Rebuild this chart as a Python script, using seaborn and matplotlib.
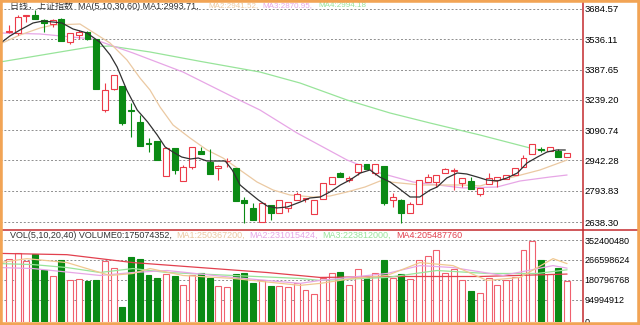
import numpy as np
import pandas as pd
import matplotlib
matplotlib.use("Agg")
import matplotlib.pyplot as plt
import seaborn as sns
from matplotlib.patches import Rectangle
from matplotlib.lines import Line2D

# ---------------- data ----------------
opens = [3574.2, 3566.9, 3647.8, 3655.1, 3630.6, 3611.0, 3635.5, 3522.7, 3557.0, 3571.8,
         3537.4, 3189.2, 3292.2, 3306.9, 3189.2, 3130.3, 3027.3, 3037.1, 2865.4, 3002.8,
         2840.9, 2909.6, 2988.1, 2934.1, 2904.7, 2936.6, 2904.7, 2747.7, 2708.5, 2639.8,
         2723.2, 2684.0, 2708.5, 2747.7, 2752.6, 2679.1, 2752.6, 2826.2, 2880.1, 2845.8,
         2885.1, 2924.3, 2880.1, 2914.5, 2747.7, 2747.7, 2684.0, 2728.1, 2836.0, 2836.0,
         2880.1, 2890.0, 2831.1, 2840.9, 2777.1, 2826.2, 2845.8, 2850.7, 2870.3, 2909.6,
         2973.4, 2997.9, 2988.1, 2988.1, 2958.6]
closes = [3576.7, 3645.3, 3652.7, 3635.5, 3615.9, 3630.6, 3527.6, 3566.9, 3571.8, 3537.4,
          3292.2, 3287.3, 3360.8, 3125.4, 3184.3, 3012.6, 3022.4, 2943.9, 3002.8, 2894.9,
          2909.6, 3007.7, 2973.4, 2875.2, 2914.5, 2939.0, 2742.8, 2733.0, 2649.6, 2733.0,
          2684.0, 2747.7, 2737.9, 2777.1, 2757.5, 2747.7, 2831.1, 2860.5, 2860.5, 2853.2,
          2924.3, 2899.8, 2924.3, 2733.0, 2762.4, 2684.0, 2728.1, 2845.8, 2860.5, 2870.3,
          2899.8, 2894.9, 2855.6, 2801.7, 2806.6, 2855.6, 2860.5, 2870.3, 2904.7, 2953.7,
          3022.4, 2993.0, 3007.7, 2958.6, 2978.3]
highs = [3606.1, 3655.1, 3652.7, 3679.7, 3635.5, 3635.5, 3640.4, 3566.9, 3581.6, 3576.7,
         3537.4, 3321.6, 3360.8, 3306.9, 3223.5, 3164.6, 3051.8, 3037.1, 3007.7, 3002.8,
         2919.4, 3007.7, 3007.7, 2995.4, 2919.4, 2953.7, 2904.7, 2762.4, 2733.0, 2733.0,
         2723.2, 2747.7, 2737.9, 2787.0, 2752.6, 2747.7, 2831.1, 2860.5, 2885.1, 2865.4,
         2924.3, 2924.3, 2924.3, 2914.5, 2782.1, 2752.6, 2737.9, 2845.8, 2875.2, 2870.3,
         2904.7, 2904.7, 2855.6, 2860.5, 2806.6, 2880.1, 2860.5, 2870.3, 2904.7, 2968.4,
         3022.4, 3007.7, 3007.7, 2997.9, 2978.3]
lows = [3566.9, 3557.0, 3620.8, 3635.5, 3571.8, 3596.3, 3527.6, 3512.9, 3537.4, 3532.5,
        3292.2, 3179.4, 3287.3, 3115.6, 3056.7, 3012.6, 2983.2, 2943.9, 2865.4, 2875.2,
        2840.9, 2899.8, 2973.4, 2875.2, 2845.8, 2909.6, 2742.8, 2634.9, 2649.6, 2639.8,
        2649.6, 2684.0, 2688.9, 2747.7, 2737.9, 2679.1, 2752.6, 2826.2, 2860.5, 2836.0,
        2870.3, 2899.8, 2870.3, 2723.2, 2713.4, 2634.9, 2684.0, 2728.1, 2836.0, 2811.5,
        2880.1, 2796.8, 2811.5, 2801.7, 2767.3, 2826.2, 2811.5, 2850.7, 2870.3, 2909.6,
        2973.4, 2983.2, 2988.1, 2958.6, 2958.6]
# volume in millions
volume_m = [270.7, 296.3, 263.5, 292.1, 223.7, 195.1, 266.4, 178.1, 182.3, 175.1,
            178.1, 263.5, 232.3, 64.1, 280.5, 270.7, 202.4, 187.9, 203.7, 195.1,
            159.7, 202.4, 212.2, 189.6, 153.7, 148.2, 206.7, 209.2, 166.5, 181.0,
            152.4, 155.4, 148.2, 166.5, 135.4, 121.3, 189.6, 210.9, 216.5, 156.7,
            228.0, 192.2, 210.9, 266.4, 189.6, 203.7, 185.3, 266.4, 283.5, 310.4,
            210.9, 228.0, 178.1, 132.4, 123.8, 189.6, 159.7, 181.0, 192.2, 310.4,
            350.0, 266.4, 206.7, 232.3, 175.07]

# price moving averages (position index, value)
ma5_x = [-0.8, 0.1, 1.26, 2.75, 3.9, 5.05, 6.08, 7.34, 8.94, 10.4, 11.6, 12.4, 13.5, 14.7,
         15.9, 17.0, 17.9, 18.8, 19.8, 20.8, 21.7, 22.7, 23.6, 24.8, 25.6, 26.5, 27.6, 28.6,
         29.6, 30.7, 31.9, 33.4, 34.5, 35.7, 36.8, 38.0, 39.1, 40.3, 41.4, 42.5, 43.7, 44.8,
         46.0, 47.1, 48.3, 49.1, 50.2, 51.4, 52.5, 53.7, 54.8, 56.0, 57.1, 58.3, 59.4, 60.6,
         61.7, 62.8, 63.8]
ma5_y = [3522.7, 3552.1, 3581.6, 3615.9, 3625.7, 3620.8, 3615.9, 3586.5, 3566.9, 3522.7,
         3459.0, 3400.1, 3287.3, 3189.2, 3130.3, 3066.5, 3007.7, 2983.2, 2958.6, 2948.8,
         2953.7, 2939.0, 2939.0, 2939.0, 2894.9, 2821.3, 2782.1, 2747.7, 2718.3, 2708.5,
         2713.4, 2737.9, 2757.5, 2762.4, 2787.0, 2821.3, 2845.8, 2880.1, 2894.9, 2860.5,
         2836.0, 2801.7, 2762.4, 2762.4, 2796.8, 2811.5, 2855.6, 2880.1, 2875.2, 2860.5,
         2845.8, 2840.9, 2855.6, 2880.1, 2929.2, 2958.6, 2983.2, 2993.0, 2993.0]
ma10_x = [-1.03, 1.26, 3.56, 5.05, 8.14, 11.58, 13.53, 15.02, 16.17, 17.32, 18.81, 20.76,
          22.71, 24.54, 26.49, 28.44, 30.28, 32.22, 34.86, 36.81, 38.76, 40.83, 42.55, 44.84,
          47.13, 52.06, 54.01, 56.31, 57.8, 60.89, 64.0]
ma10_y = [3512.9, 3557.0, 3591.4, 3606.1, 3611.0, 3517.8, 3434.4, 3346.1, 3287.3, 3203.9,
          3115.6, 3051.8, 2993.0, 2953.7, 2894.9, 2836.0, 2796.8, 2772.3, 2762.4, 2767.3,
          2787.0, 2811.5, 2840.9, 2831.1, 2821.3, 2821.3, 2816.4, 2845.8, 2860.5, 2894.9,
          2943.9]
ma30_x = [-1.03, 3.56, 9.63, 14.22, 19.95, 25.69, 28.78, 33.03, 38.76, 42.55, 46.33, 52.06,
          55.96, 58.6, 62.04, 64.0]
ma30_y = [3566.9, 3562.0, 3537.4, 3468.8, 3375.6, 3253.0, 3189.2, 3076.4, 2944.0, 2880.1,
          2836.0, 2806.6, 2811.5, 2840.9, 2860.5, 2870.3]
ma60_x = [-1.03, 2.41, 5.85, 9.29, 11.58, 16.17, 21.9, 28.78, 33.37, 38.76, 43.69, 48.28,
          54.01, 59.75, 61.47]
ma60_y = [3424.6, 3449.1, 3473.7, 3498.2, 3503.1, 3473.7, 3428.0, 3375.5, 3321.6, 3238.2,
          3174.5, 3125.4, 3066.5, 3002.8, 2988.1]

# volume moving averages (millions)
vma1_x = [-1.03, 2.06, 6.65, 11.58, 14.22, 16.17, 19.95, 25.69, 33.37, 35.67, 39.45, 43.35,
          47.13, 50.92, 54.82, 58.6, 62.39, 64.0]
vma1_y = [255.0, 272.0, 255.0, 199.4, 208.0, 229.3, 199.4, 186.6, 156.7, 165.2, 186.6, 199.4,
          255.0, 242.0, 178.0, 190.9, 272.0, 250.4]
vma2_x = [-1.03, 2.75, 10.44, 14.22, 18.12, 25.69, 33.37, 35.67, 43.35, 47.13, 50.92, 56.65,
          62.39, 64.0]
vma2_y = [233.6, 229.3, 199.4, 212.2, 220.8, 190.9, 165.2, 178.0, 208.0, 242.0, 233.6, 199.4,
          242.0, 231.0]
vma3_x = [-1.03, 2.75, 6.65, 10.44, 14.22, 18.12, 25.69, 33.37, 35.67, 43.35, 49.08, 54.82,
          60.55, 64.0]
vma3_y = [250.6, 246.4, 233.6, 212.2, 229.3, 212.2, 199.4, 186.6, 178.0, 190.9, 220.8, 208.0,
          208.0, 223.8]
vma4_x = [-1.03, 6.65, 10.44, 14.22, 21.9, 29.59, 35.67, 44.84, 54.01, 64.0]
vma4_y = [294.6, 289.1, 272.0, 255.0, 233.6, 212.2, 190.9, 195.0, 195.0, 205.5]

price_ticks = [3684.57, 3536.11, 3387.65, 3239.20, 3090.74, 2942.28, 2793.83, 2638.30]
vol_ticks = [352400480, 266598624, 180796768, 94994912, 0]

title_main = "日线，上证指数  MA(5,10,30,60) MA1:2993.71,"
title_ma = ["MA2:2941.52,", "MA3:2870.95,", "MA4:2994.18"]
vol_title = "VOL(5,10,20,40) VOLUME0:175074352,"
vol_ma = ["MA1:250367200,", "MA2:231015424,", "MA3:223812000,", "MA4:205487760"]

# ---------------- style ----------------
sns.set_theme(style="white")
plt.rcParams["font.family"] = ["Liberation Sans", "Noto Sans CJK SC", "DejaVu Sans"]

RED = "#EC3A48"
VRED = "#F0606E"
GREEN = "#0A8A14"
GRID = "#8E8E8E"
C_MA5 = "#303030"
C_MA10 = "#EBC9A2"
C_MA30 = "#E7A6E6"
C_MA60 = "#98E49A"
C_VMA4 = "#E2404E"

W, H = 640, 325
fig = plt.figure(figsize=(W / 100, H / 100), dpi=100)
fig.patch.set_facecolor("white")

XL = (-9 / 8.72, (582 - 9) / 8.72)
ax1 = fig.add_axes([0, (H - 229) / H, 582 / W, 227 / H])
ax2 = fig.add_axes([0, 3 / H, 582 / W, 92 / H])

sc = (price_ticks[0] - price_ticks[-1]) / (222.3 - 9)
ax1.set_ylim(price_ticks[0] - 220 * sc, price_ticks[0] + 7 * sc)
vsc = vol_ticks[0] / (321.7 - 240)
ax2.set_ylim(-0.3 * vsc, vol_ticks[0] + 10 * vsc)
for ax in (ax1, ax2):
    ax.set_xlim(*XL)
    ax.set_facecolor("white")
    for s in ax.spines.values():
        s.set_visible(False)
    ax.set_xticks([])
    ax.yaxis.tick_right()
    ax.tick_params(axis="y", length=0, pad=2, labelsize=6.8, colors="black")

for t in price_ticks:
    ax1.axhline(t, color=GRID, lw=0.7, ls=(0, (2, 2)), zorder=0)
ax1.set_yticks(price_ticks)
ax1.set_yticklabels([f"{t:.2f}" for t in price_ticks])
for t in vol_ticks[:-1]:
    ax2.axhline(t, color=GRID, lw=0.7, ls=(0, (2, 2)), zorder=0)
ax2.set_yticks(vol_ticks)
ax2.set_yticklabels([str(t) for t in vol_ticks])
ax2.tick_params(axis="y", labelsize=6.5)

# ---------------- candles ----------------
o = np.array(opens); c = np.array(closes); h = np.array(highs); l = np.array(lows)
idx = np.arange(len(o))
up = c >= o
bb = np.minimum(o, c); bt = np.maximum(o, c)
hgt = np.maximum(bt - bb, 1.5)
bw = 0.68

ax1.vlines(idx[up], bt[up], h[up], color=RED, lw=0.8, zorder=2)
ax1.vlines(idx[up], l[up], bb[up], color=RED, lw=0.8, zorder=2)
ax1.vlines(idx[~up], l[~up], h[~up], color=GREEN, lw=0.8, zorder=2)
ax1.bar(idx[up], hgt[up], bottom=bb[up], width=bw, facecolor="white",
        edgecolor=RED, linewidth=0.8, zorder=3)
ax1.bar(idx[~up], hgt[~up], bottom=bb[~up], width=bw, facecolor=GREEN,
        edgecolor=GREEN, linewidth=0.8, zorder=3)

for xs, ys, col, lw, z in [(ma60_x, ma60_y, C_MA60, 0.9, 1.5),
                           (ma30_x, ma30_y, C_MA30, 0.9, 1.6),
                           (ma10_x, ma10_y, C_MA10, 0.9, 1.7),
                           (ma5_x, ma5_y, C_MA5, 0.9, 4)]:
    sns.lineplot(x=xs, y=ys, ax=ax1, color=col, linewidth=lw, sort=False,
                 estimator=None, zorder=z)

# ---------------- volume ----------------
v = np.array(volume_m) * 1e6
ax2.bar(idx[up], v[up], width=bw, facecolor="white", edgecolor=VRED, linewidth=0.8, zorder=2)
ax2.bar(idx[~up], v[~up], width=bw, facecolor=GREEN, edgecolor=GREEN, linewidth=0.8, zorder=2)
for xs, ys, col in [(vma4_x, vma4_y, C_VMA4), (vma3_x, vma3_y, C_MA60),
                    (vma2_x, vma2_y, C_MA30), (vma1_x, vma1_y, "#F0C890")]:
    sns.lineplot(x=xs, y=np.array(ys) * 1e6, ax=ax2, color=col, linewidth=0.9,
                 sort=False, estimator=None, zorder=3)
for ax in (ax1, ax2):
    ax.set_xlabel(""); ax.set_ylabel("")
    if ax.get_legend():
        ax.get_legend().remove()

# ---------------- texts ----------------
def ftext(x, y, s, col, fs=6.5):
    fig.text(x / W, 1 - y / H, s, color=col, fontsize=fs, ha="left", va="center")

ftext(10, 5.5, title_main, "#333333")
for xpos, s, col in zip([208, 262, 318], title_ma, [C_MA10, C_MA30, C_MA60]):
    ftext(xpos, 5.5, s, col, fs=5.8)
ftext(10, 235.5, vol_title, "#333333")
for xpos, s, col in zip([176, 249, 322, 396], vol_ma, [C_MA10, C_MA30, C_MA60, C_VMA4]):
    ftext(xpos, 235.5, s, col)

# ---------------- frame lines ----------------
fig.add_artist(Line2D([582.5 / W] * 2, [0, 1], transform=fig.transFigure,
                      color="#C42A2E", lw=1.1, zorder=10))
fig.add_artist(Line2D([0, 1], [1 - 229.5 / H] * 2, transform=fig.transFigure,
                      color="#C42A2E", lw=1.1, zorder=10))
fig.add_artist(Rectangle((0, 0), 1, 1, transform=fig.transFigure, fill=False,
                         edgecolor="#F2A455", linewidth=4, zorder=11))

fig.savefig("out.png", dpi=100, facecolor="white")
